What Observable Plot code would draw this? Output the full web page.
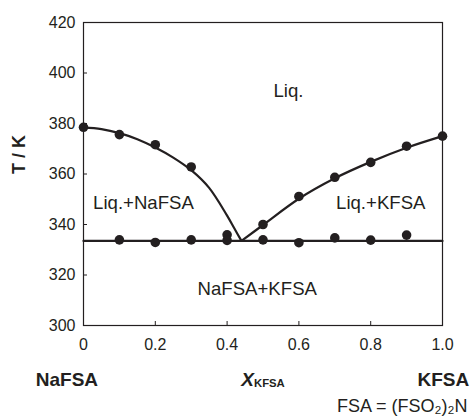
<!DOCTYPE html>
<html>
<head>
<meta charset="utf-8">
<script src="https://cdn.jsdelivr.net/npm/d3@7"></script>
<script src="https://cdn.jsdelivr.net/npm/@observablehq/plot@0.6"></script>
<style>
  html, body { margin: 0; padding: 0; background: #fff; }
</style>
</head>
<body>
<div id="chart"></div>
<script>
// Measured points: liquidus (left, NaFSA-rich)
const liqNaX = [0, 0.1, 0.2, 0.3, 0.4];
const liqNaT = [378.5, 375.6, 371.6, 362.8, 335.9];
// Measured points: liquidus (right, KFSA-rich)
const liqKX = [0.5, 0.6, 0.7, 0.8, 0.9, 1.0];
const liqKT = [340.0, 351.1, 358.7, 364.6, 371.0, 375.0];
// Measured points: eutectic (solidus)
const solX = [0.1, 0.2, 0.3, 0.4, 0.5, 0.6, 0.7, 0.8, 0.9];
const solT = [333.9, 332.9, 333.9, 333.7, 333.9, 332.8, 334.7, 333.8, 335.8];

// Guide curves
const curveNaX = [0, 0.05, 0.1, 0.15, 0.2, 0.25, 0.3, 0.35, 0.4, 0.42, 0.44];
const curveNaT = [378.5, 377.8, 376.2, 373.8, 370.5, 366.5, 361.5, 354.5, 343.5, 338.5, 333.5];
const curveKX = [0.44, 0.5, 0.6, 0.7, 0.8, 0.9, 1.0];
const curveKT = [333.5, 339.8, 350.2, 358.3, 364.8, 370.4, 375.0];
const eutecticX = [0, 1.0];
const eutecticT = [333.5, 333.5];

// Tick values
const xTicks = [0, 0.2, 0.4, 0.6, 0.8, 1.0];
const xTickLabels = ["0", "0.2", "0.4", "0.6", "0.8", "1.0"];
const yTicks = [300, 320, 340, 360, 380, 400, 420];

// Region labels
const regionLabels = ["Liq.", "Liq.+NaFSA", "Liq.+KFSA", "NaFSA+KFSA"];
const regionX = [0.571, 0.167, 0.828, 0.484];
const regionT = [392.9, 348.6, 348.6, 314.3];

const ink = "#231f20";
const font = "'Liberation Sans', Arial, Helvetica, sans-serif";

const pts = (xs, ts) => xs.map((x, i) => ({x, T: ts[i]}));
const allPoints = [...pts(liqNaX, liqNaT), ...pts(liqKX, liqKT), ...pts(solX, solT)];
const regions = regionLabels.map((label, i) => ({label, x: regionX[i], T: regionT[i]}));

const chart = Plot.plot({
  width: 472,
  height: 417,
  marginLeft: 83,
  marginRight: 30,
  marginTop: 22,
  marginBottom: 92,
  style: {fontFamily: font, color: ink, background: "#fff", overflow: "visible"},
  x: {domain: [0, 1], ticks: xTicks},
  y: {domain: [300, 420], ticks: yTicks},
  marks: [
    Plot.axisX(xTicks, {
      tickSize: -4, tickPadding: 17, fontSize: 16, stroke: ink, fill: ink,
      tickFormat: d => xTickLabels[xTicks.indexOf(d)], label: null
    }),
    Plot.axisY(yTicks, {
      tickSize: -4, tickPadding: 12, fontSize: 16, stroke: ink, fill: ink, label: null
    }),
    Plot.frame({stroke: ink, strokeWidth: 1.2}),
    Plot.line(pts(curveNaX, curveNaT), {x: "x", y: "T", curve: "catmull-rom", stroke: ink, strokeWidth: 2.2}),
    Plot.line(pts(curveKX, curveKT), {x: "x", y: "T", curve: "catmull-rom", stroke: ink, strokeWidth: 2.2}),
    Plot.line(pts(eutecticX, eutecticT), {x: "x", y: "T", stroke: ink, strokeWidth: 2.2}),
    Plot.dot(allPoints, {x: "x", y: "T", r: 4.8, fill: ink, stroke: "none"}),
    Plot.text(regions, {x: "x", y: "T", text: "label", fontSize: 18.6, fill: ink}),
    // y-axis title
    Plot.text(["T / K"], {frameAnchor: "left", y: [360], text: d => d, rotate: -90, dx: -64, fontSize: 18, fontWeight: "bold", fill: ink}),
    // bottom labels
    Plot.text(["NaFSA"], {x: [0], y: [300], text: d => d, dx: -16.6, dy: 54.4, fontSize: 19, fontWeight: "bold", fill: ink}),
    Plot.text(["KFSA"], {x: [1.0], y: [300], text: d => d, dx: 0.8, dy: 54.4, fontSize: 19, fontWeight: "bold", fill: ink}),
    Plot.text(["X"], {x: [0.5], y: [300], text: d => d, textAnchor: "start", dx: -21.8, dy: 54.4, fontSize: 19, fontWeight: "bold", fontStyle: "italic", fill: ink}),
    Plot.text(["KFSA"], {x: [0.5], y: [300], text: d => d, textAnchor: "start", dx: -9, dy: 57.4, fontSize: 11.3, fontWeight: "bold", fill: ink}),
    Plot.text(["FSA = (FSO₂)₂N"], {x: [1.0], y: [300], text: d => d, textAnchor: "end", dx: 25, dy: 80.5, fontSize: 18, fill: ink})
  ]
});
document.getElementById("chart").appendChild(chart);
</script>
</body>
</html>
